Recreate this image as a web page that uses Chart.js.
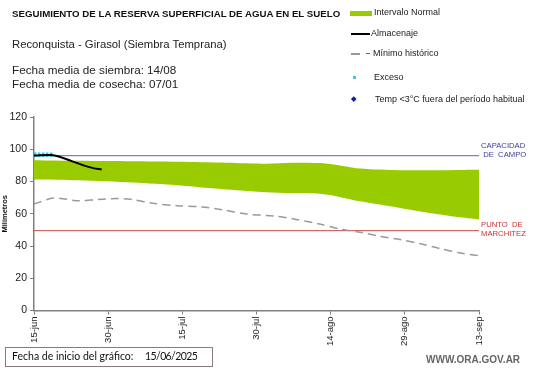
<!DOCTYPE html>
<html>
<head>
<meta charset="utf-8">
<script src="https://cdn.jsdelivr.net/npm/chart.js@4.4.1/dist/chart.umd.min.js"></script>
<style>
  html,body{margin:0;padding:0;background:#fff;}
  #wrap{position:relative;width:541px;height:368px;overflow:hidden;font-family:"Liberation Sans",Arial,sans-serif;color:#111;}
  canvas{position:absolute;left:0;top:0;}
  .t{position:absolute;white-space:nowrap;}
  .lg{font-size:9px;line-height:10px;color:#222;}
</style>
</head>
<body>
<div id="wrap">
  <canvas id="c" width="541" height="368"></canvas>
  <div class="t" style="left:12px;top:8px;font-size:9.7px;font-weight:bold;">SEGUIMIENTO DE LA RESERVA SUPERFICIAL DE AGUA EN EL SUELO</div>
  <div class="t" style="left:12px;top:38px;font-size:11.3px;color:#222;">Reconquista - Girasol (Siembra Temprana)</div>
  <div class="t" style="left:12px;top:63px;font-size:11.7px;line-height:14px;color:#222;">Fecha media de siembra: 14/08<br>Fecha media de cosecha: 07/01</div>

  <div class="t" style="left:350px;top:11px;width:22px;height:4.5px;background:#99cc00;"></div>
  <div class="t lg" style="left:374px;top:7px;">Intervalo Normal</div>
  <div class="t" style="left:351px;top:33px;width:19px;height:2px;background:#000;"></div>
  <div class="t lg" style="left:371px;top:28px;">Almacenaje</div>
  <div class="t" style="left:351px;top:53px;width:9px;height:1.5px;background:#999;"></div>
  <div class="t" style="left:366px;top:53px;width:4px;height:1.2px;background:#666;"></div>
  <div class="t lg" style="left:373px;top:48px;">Mínimo histórico</div>
  <div class="t" style="left:352.5px;top:75.5px;width:3px;height:3px;background:#33ccee;"></div>
  <div class="t lg" style="left:374px;top:71.5px;">Exceso</div>
  <div class="t" style="left:351.5px;top:97px;width:3.5px;height:3.5px;background:#1a1aa0;transform:rotate(45deg);"></div>
  <div class="t lg" style="left:375px;top:94px;">Temp &lt;3°C fuera del período habitual</div>

  <div class="t" style="left:481px;top:140.5px;font-size:7.7px;line-height:9px;color:#3a3aa0;">CAPACIDAD<br>&nbsp;DE&nbsp; CAMPO</div>
  <div class="t" style="left:481px;top:220px;font-size:7.7px;line-height:9px;color:#c83232;">PUNTO&nbsp; DE<br>MARCHITEZ</div>

  <div class="t" style="left:5px;top:347px;width:206px;height:18px;border:1px solid #8a7a7a;"></div>
  <div class="t" style="left:12px;top:350px;font-size:10.5px;font-family:Lato,'Open Sans',sans-serif;">Fecha de inicio del gráfico:</div>
  <div class="t" style="left:145px;top:350px;font-size:10.5px;letter-spacing:-0.6px;font-family:Lato,'Open Sans',sans-serif;">15/06/2025</div>
  <div class="t" style="left:426px;top:354px;font-size:10px;font-weight:bold;color:#666;">WWW.ORA.GOV.AR</div>
</div>
<script>
// x positions are days since 15-jun
const tickLabels = ["15-jun","30-jun","15-jul","30-jul","14-ago","29-ago","13-sep"];
const normalDays  = [0, 9, 20, 29, 39, 47, 52, 59, 66, 74, 80, 87, 90];
const normalUpper = [93.2, 92.8, 92.5, 92.2, 91.6, 91.0, 91.6, 91.2, 88.0, 87.0, 87.0, 87.2, 87.3];
const normalLower = [81.3, 80.8, 79.4, 77.7, 75.0, 73.3, 72.8, 72.0, 67.7, 63.6, 60.5, 57.5, 56.5];
const storageDays = [0, 3.5, 5, 7.5, 10, 12, 13.7];
const storageVals = [96.1, 96.4, 95.5, 92.8, 90.0, 88.3, 87.5];
const excessDays = [0, 1, 2, 3, 4];
const excessVals = [96.6, 96.6, 96.6, 96.6, 96.6];
const minDays = [0, 4, 9, 13, 17, 20, 24, 29, 34, 38, 43, 49, 53, 58, 62, 66, 70, 74, 78, 82, 86, 90];
const minVals = [66, 69.7, 68, 68.8, 69.4, 68.8, 66.5, 65, 64.2, 62.5, 59.8, 58.5, 56.5, 53.5, 50.5, 48.5, 46, 44, 41.5, 38.5, 35.8, 34];
const fieldCapacity = 96;
const wiltingPoint = 49.5;
const xRange = [0, 90];

const pts = (xs, ys) => xs.map((x, i) => ({x, y: ys[i]}));
const flat = (v) => xRange.map(x => ({x, y: v}));

new Chart(document.getElementById('c'), {
  type: 'line',
  data: {
    datasets: [
      {data: pts(normalDays, normalUpper), borderWidth: 0, pointRadius: 0, fill: '+1', backgroundColor: '#99cc00', tension: 0.3, order: 5},
      {data: pts(normalDays, normalLower), borderWidth: 0, pointRadius: 0, fill: false, tension: 0.3, order: 5},
      {data: flat(fieldCapacity), borderColor: '#5068c0', borderWidth: 1, pointRadius: 0, order: 4},
      {data: flat(wiltingPoint), borderColor: '#c84848', borderWidth: 1, pointRadius: 0, order: 4},
      {data: pts(minDays, minVals), borderColor: '#9a9a9a', borderWidth: 1.5, borderDash: [8, 5], pointRadius: 0, tension: 0.3, order: 3},
      {data: pts(excessDays, excessVals), borderColor: '#3cc8f0', borderWidth: 4.5, borderDash: [2.5, 1.5], pointRadius: 0, order: 2},
      {data: pts(storageDays, storageVals), borderColor: '#000', borderWidth: 2, pointRadius: 0, tension: 0.35, order: 1}
    ]
  },
  options: {
    responsive: false,
    animation: false,
    events: [],
    layout: {padding: {left: 0, top: 117, right: 62, bottom: 0}},
    plugins: {legend: {display: false}, tooltip: {enabled: false}},
    scales: {
      x: {
        type: 'linear', min: xRange[0], max: xRange[1],
        afterFit: s => { s.height = 57.5; },
        ticks: {stepSize: 15, autoSkip: false, maxRotation: 90, minRotation: 90, padding: 2,
          color: '#222', font: {family: 'Liberation Sans', size: 9.5},
          callback: (v) => tickLabels[Math.round(v / 15)]},
        grid: {drawOnChartArea: false, drawTicks: true, tickLength: 4, color: '#808080'},
        border: {color: '#808080', width: 1.5}
      },
      y: {
        min: 0, max: 120,
        afterFit: s => { s.width = 34; },
        ticks: {stepSize: 20, padding: 3, color: '#222', font: {family: 'Liberation Sans', size: 10.5}},
        grid: {drawOnChartArea: false, drawTicks: true, tickLength: 4, color: '#808080'},
        border: {color: '#808080', width: 1.5},
        title: {display: true, text: 'Milímetros', color: '#111', padding: 0, font: {family: 'Liberation Sans', size: 7.5, weight: 'bold'}}
      }
    }
  }
});
</script>
</body>
</html>
